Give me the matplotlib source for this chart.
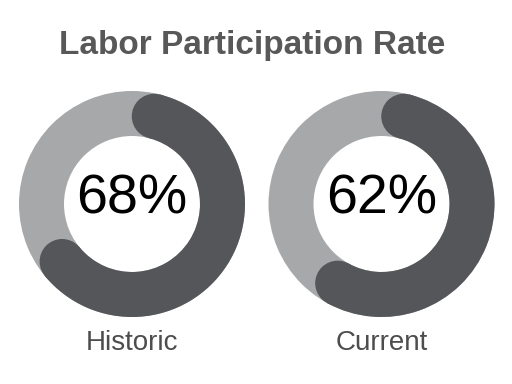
import numpy as np
import matplotlib.pyplot as plt
from matplotlib.patches import Wedge, Circle

# data
labels = ["Historic", "Current"]
rates = [68, 62]  # percent

plt.rcParams['font.family'] = ['Liberation Sans', 'DejaVu Sans']

dark = '#54565a'
light = '#a7a8aa'

fig = plt.figure(figsize=(5.12, 3.84), dpi=100)
ax = fig.add_axes([0, 0, 1, 1])
ax.set_xlim(0, 512)
ax.set_ylim(384, 0)  # pixel-like coords, y down
ax.set_aspect('equal')
ax.axis('off')

# layout of the rings
cx_list = [132, 381.5]
cy = 204
r_out = 113
width = 45
r_mid = r_out - width / 2
cap_deg = np.degrees((width / 2) / r_mid)

for cx, rate, lab in zip(cx_list, rates, labels):
    # background ring
    ax.add_patch(Wedge((cx, cy), r_out, 0, 360, width=width, color=light, lw=0))
    # value arc, clockwise from 12 o'clock, rounded ends inside the span
    span = rate / 100 * 360
    t1 = -90 + cap_deg
    t2 = -90 + span - cap_deg
    ax.add_patch(Wedge((cx, cy), r_out, t1, t2, width=width, color=dark, lw=0))
    for t in (t1, t2):
        a = np.radians(t)
        ax.add_patch(Circle((cx + r_mid * np.cos(a), cy + r_mid * np.sin(a)),
                            width / 2, color=dark, lw=0))
    ax.text(cx, cy - 5, f"{rate}%", ha='center', va='center', fontsize=40, color='black')
    ax.text(cx, 343, lab, ha='center', va='center', fontsize=20, color='#4d4d4d')

ax.text(252, 54, "Labor Participation Rate", ha='center', va='baseline',
        fontsize=24, fontweight='bold', color='#585858')

fig.savefig('out.png', dpi=100)
